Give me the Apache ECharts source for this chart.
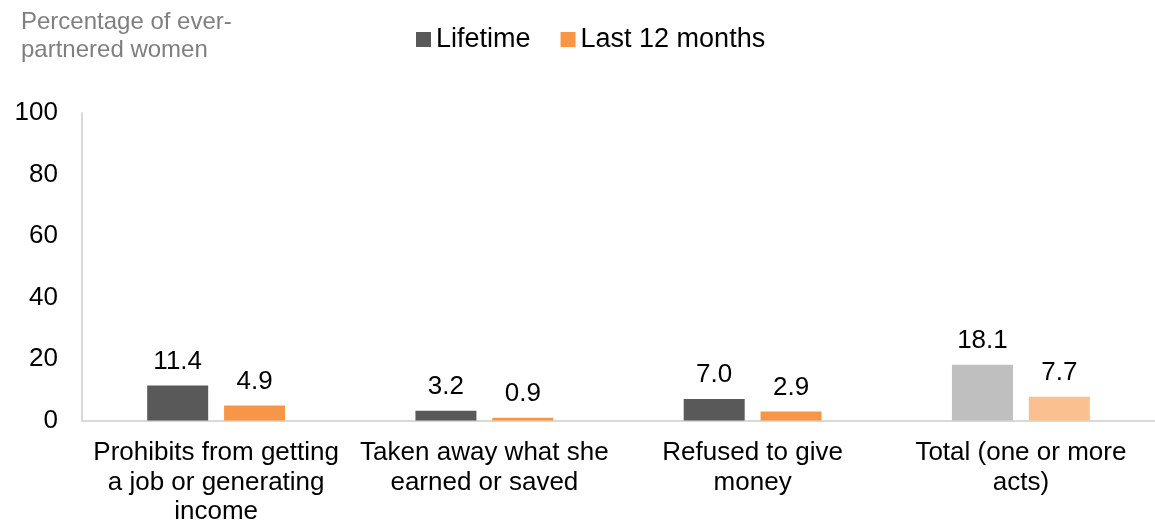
<!DOCTYPE html>
<html>
<head>
<meta charset="utf-8">
<script src="https://cdn.jsdelivr.net/npm/echarts@6/dist/echarts.min.js"></script>
<style>
  html, body { margin: 0; padding: 0; background: #fff; }
  #chart { width: 1155px; height: 527px; }
</style>
</head>
<body>
<div id="chart"></div>
<script>
// categories (line breaks as in the source chart)
const categories = [
  "Prohibits from getting\na job or generating\nincome",
  "Taken away what she\nearned or saved",
  "Refused to give\nmoney",
  "Total (one or more\nacts)"
];
const lifetime = [11.4, 3.2, 7.0, 18.1];
const last12 = [4.9, 0.9, 2.9, 7.7];
const yTicks = [0, 20, 40, 60, 80, 100];

const FONT = "Liberation Sans, Arial, sans-serif";

// last category (total) uses lighter shades
const lifetimeColors = ["#595959", "#595959", "#595959", "#BFBFBF"];
const last12Colors = ["#F79646", "#F79646", "#F79646", "#FAC090"];

const chart = echarts.init(document.getElementById("chart"));

const labelStyle = {
  show: true,
  position: "top",
  distance: 11,
  color: "#000",
  fontFamily: FONT,
  fontSize: 26,
  formatter: p => p.value.toFixed(1)
};

const option = {
  animation: false,
  title: {
    text: "Percentage of ever-\npartnered women",
    left: 16,
    top: 3,
    textStyle: {
      color: "#7f7f7f",
      fontFamily: FONT,
      fontWeight: "normal",
      fontSize: 24,
      lineHeight: 28
    }
  },
  legend: {
    top: 21,
    left: 411,
    itemWidth: 15,
    itemHeight: 15,
    itemGap: 30,
    icon: "rect",
    textStyle: { color: "#000", fontFamily: FONT, fontSize: 27, padding: [0, 0, 0, 0] },
    data: [
      { name: "Lifetime", itemStyle: { color: "#595959" } },
      { name: "Last 12 months", itemStyle: { color: "#F79646" } }
    ]
  },
  grid: {
    left: 82,
    top: 113,
    width: 1080,
    bottom: 105,
    containLabel: false
  },
  xAxis: {
    type: "category",
    data: categories,
    axisLine: { show: true, lineStyle: { color: "#D9D9D9", width: 2 } },
    axisTick: { show: false },
    axisLabel: {
      color: "#000",
      fontFamily: FONT,
      fontSize: 26,
      lineHeight: 29.5,
      margin: 18,
      interval: 0
    }
  },
  yAxis: {
    type: "value",
    min: yTicks[0],
    max: yTicks[yTicks.length - 1],
    interval: 20,
    axisLine: { show: true, lineStyle: { color: "#D9D9D9", width: 2 } },
    axisTick: { show: false },
    splitLine: { show: false },
    axisLabel: {
      color: "#000",
      fontFamily: FONT,
      fontSize: 26,
      margin: 24
    }
  },
  series: [
    {
      name: "Lifetime",
      type: "bar",
      barWidth: 61,
      barGap: "26%",
      data: lifetime.map((v, i) => ({ value: v, itemStyle: { color: lifetimeColors[i] } })),
      itemStyle: { color: "#595959" },
      label: labelStyle
    },
    {
      name: "Last 12 months",
      type: "bar",
      barWidth: 61,
      data: last12.map((v, i) => ({ value: v, itemStyle: { color: last12Colors[i] } })),
      itemStyle: { color: "#F79646" },
      label: labelStyle
    }
  ]
};

chart.setOption(option);
</script>
</body>
</html>
